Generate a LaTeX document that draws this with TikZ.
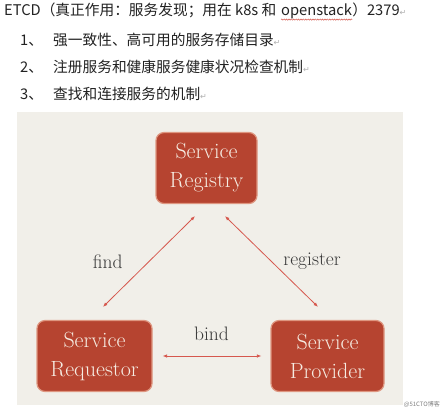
\documentclass[tikz,border=0pt]{standalone}
\usepackage{fontspec}
\newfontfamily\cjk{Noto Sans CJK SC}
\newfontfamily\symfont{DejaVu Sans}
\usepackage{xcolor}
\usepackage{tikz}
\usetikzlibrary{arrows.meta,positioning,decorations.pathmorphing}
\definecolor{EtcdBrick}{RGB}{182,68,48}
\definecolor{EtcdEdge}{RGB}{222,150,128}
\definecolor{EtcdPanel}{RGB}{241,239,233}
\definecolor{EtcdInk}{RGB}{34,34,34}
\definecolor{EtcdLink}{RGB}{214,88,78}
\definecolor{EtcdMark}{RGB}{175,175,175}
\definecolor{SvcText}{RGB}{246,236,226}
\newcommand{\parmark}{{\symfont\color{EtcdMark}\fontsize{8}{8}\selectfont ↵}}

\begin{document}
\begin{tikzpicture}[x=1pt,y=-1pt,
    txtline/.style={anchor=base west,inner sep=0pt,font=\cjk\fontsize{14.7}{16}\selectfont,text=EtcdInk},
    svc/.style={draw=EtcdEdge,line width=1.2pt,fill=EtcdBrick,rounded corners=8pt,align=center,
      minimum height=71pt,text=SvcText,font=\fontsize{22}{29}\selectfont},
    verbnode/.style={inner sep=0pt,text=EtcdInk!90,font=\fontsize{19.5}{22}\selectfont},
    link/.style={EtcdLink,line width=0.8pt,{Latex[length=4.5pt,width=3.5pt]}-{Latex[length=4.5pt,width=3.5pt]}}]
  \fill[white] (0,0) rectangle (446,413);
  \useasboundingbox (0,0) rectangle (446,413);
  \node[txtline] (etcd) at (4,15) {ETCD（真正作用：服务发现；用在 k8s 和};
  \node[txtline,xshift=4.5pt] (os) at (etcd.base east) {openstack};
  \node[txtline] (port) at (os.base east) {）2379\parmark};
  \draw[EtcdLink,line width=0.5pt,decorate,decoration={snake,amplitude=0.6pt,segment length=2.4pt}]
    ([yshift=-1pt]os.south west) -- ([yshift=-1pt]os.south east);
  \foreach \n/\txt [count=\i] in {1/强一致性、高可用的服务存储目录,2/注册服务和健康服务健康状况检查机制,3/查找和连接服务的机制}{
    \node[txtline] (num\n) at (20,{18+27*\i}) {\n、};
    \node[txtline] (item\n) at (53,{18+27*\i}) {\txt\parmark};
  }
  \fill[EtcdPanel] (17,112) rectangle (403,405);
  \node[svc,minimum width=101pt] (registry) at (206.5,168) {Service\\Registry};
  \node[svc,minimum width=115pt] (requestor) at (94.5,356) {Service\\Requestor};
  \node[svc,minimum width=113pt] (provider) at (327.5,356) {Service\\Provider};
  \draw[link] ([xshift=8.5pt,yshift=13pt]requestor.north) -- ([xshift=-11.5pt,yshift=-12pt]registry.south)
    node[verbnode,midway,left=26pt] (find) {find};
  \draw[link] ([xshift=18.5pt,yshift=-12pt]registry.south) -- ([xshift=-9.5pt,yshift=13pt]provider.north)
    node[verbnode,midway,right=11.5pt] (register) {register};
  \draw[link,shorten <=10pt,shorten >=9pt] (requestor.east) -- (provider.west)
    node[verbnode,midway,above=15pt] (bind) {bind};
  \node[anchor=east,inner sep=0pt,font=\cjk\fontsize{6}{6}\selectfont,text=gray] (mark) at (440,404) {@51CTO博客};
\end{tikzpicture}
\end{document}
